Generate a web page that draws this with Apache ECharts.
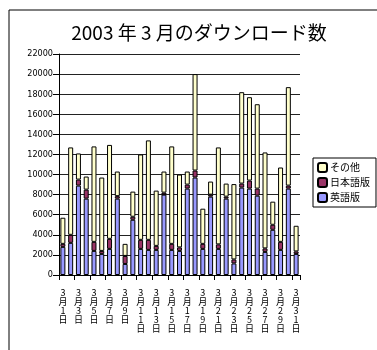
<!DOCTYPE html>
<html>
<head>
<meta charset="utf-8">
<script src="https://cdn.jsdelivr.net/npm/echarts@6/dist/echarts.min.js"></script>
<style>
  html, body { margin: 0; padding: 0; background: #fff; }
  #chart { width: 377px; height: 350px; }
</style>
</head>
<body>
<div id="chart"></div>
<script>
// x軸ラベル（3月1日〜3月31日）
const days = []
for (let d = 1; d <= 31; d++) {
  days.push('3月' + d + '日')
}

// 系列データ
const english = [2800, 3200, 8900, 7600, 2400, 2100, 2600, 7600, 1100, 5500,
  2600, 2500, 2500, 8000, 2500, 2400, 8600, 9700, 2600, 7800,
  2600, 7600, 1150, 8700, 8600, 7900, 2300, 4500, 2500, 8600, 2100]
const japanese = [300, 800, 600, 900, 900, 300, 1000, 250, 800, 300,
  900, 1000, 400, 200, 600, 350, 400, 700, 500, 200,
  450, 200, 400, 400, 800, 700, 350, 500, 800, 300, 250]
const others = [2600, 8700, 2600, 1300, 9500, 7300, 9350, 2450, 1200, 2500,
  8500, 9900, 5500, 2100, 9700, 7250, 1300, 9600, 3500, 1300,
  9650, 1300, 7500, 9100, 8300, 8400, 9550, 2300, 7400, 9800, 2550]

const yTicks = [0, 22000, 2000] // min, max, interval

let myChart = echarts.init(document.getElementById('chart'))

const font = '"Noto Sans CJK JP", "Noto Sans", sans-serif'
const barBorder = { borderColor: '#000', borderWidth: 1 }

let option = {
  animation: false,
  textStyle: { fontFamily: font },
  title: {
    text: '2003 年 3 月のダウンロード数',
    left: 194,
    textAlign: 'center',
    top: 18,
    textStyle: { fontSize: 19, fontWeight: 'normal', color: '#000', fontFamily: font },
  },
  graphic: [
    {
      type: 'rect',
      shape: { x: 9, y: 10, width: 400, height: 400 },
      style: { fill: 'none', stroke: '#000', lineWidth: 1 },
      silent: true,
    },
  ],
  legend: {
    orient: 'vertical',
    left: 313,
    top: 158,
    padding: [4, 6, 4, 4],
    itemWidth: 9,
    itemHeight: 9,
    itemGap: 4,
    borderColor: '#000',
    borderWidth: 1,
    backgroundColor: '#fff',
    data: ['その他', '日本語版', '英語版'],
    textStyle: { fontSize: 10, color: '#000', padding: [0, 0, 0, -2] },
  },
  grid: {
    left: 59,
    right: 77,
    top: 54,
    bottom: 75,
  },
  xAxis: {
    type: 'category',
    data: days,
    axisLine: { lineStyle: { color: '#000', width: 1 } },
    axisTick: { show: true, length: 5, lineStyle: { color: '#000' } },
    axisLabel: {
      interval: 1,
      color: '#000',
      fontSize: 9,
      lineHeight: 9,
      margin: 13,
      formatter: (v) => v.split('').join('\n'),
    },
  },
  yAxis: {
    type: 'value',
    min: yTicks[0],
    max: yTicks[1],
    interval: yTicks[2],
    axisLine: { show: true, lineStyle: { color: '#000', width: 1 } },
    axisTick: { show: true, length: 6, lineStyle: { color: '#000' } },
    axisLabel: {
      color: '#000',
      fontSize: 9,
      margin: 6,
      fontFamily: '"Liberation Sans Narrow", "DejaVu Sans Condensed", sans-serif',
      formatter: (v) => String(v),
    },
    splitLine: { lineStyle: { color: '#222', width: 1 } },
  },
  series: [
    {
      name: '英語版',
      type: 'bar',
      stack: 'total',
      barWidth: 5,
      itemStyle: Object.assign({ color: '#9999ff' }, barBorder),
      data: english,
    },
    {
      name: '日本語版',
      type: 'bar',
      stack: 'total',
      barWidth: 5,
      itemStyle: Object.assign({ color: '#993366' }, barBorder),
      data: japanese,
    },
    {
      name: 'その他',
      type: 'bar',
      stack: 'total',
      barWidth: 5,
      itemStyle: Object.assign({ color: '#ffffcc' }, barBorder),
      data: others,
    },
  ],
}
myChart.setOption(option)
</script>
</body>
</html>
